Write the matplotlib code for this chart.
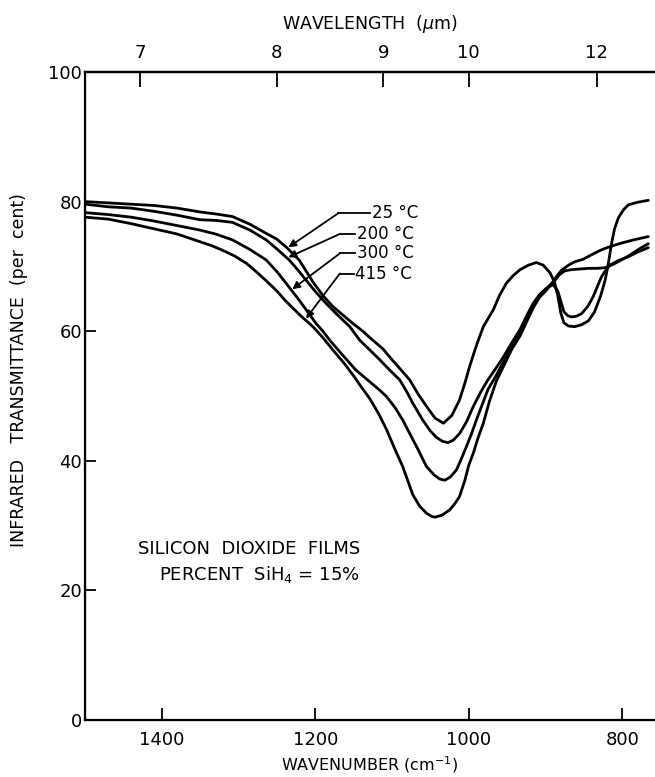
import numpy as np
import matplotlib
matplotlib.use('Agg')
import matplotlib.pyplot as plt

# Infrarot-Transmission von SiO2-Schichten
nu_25 = [1500, 1470, 1440, 1410, 1380, 1350, 1330, 1308, 1285, 1264, 1250, 1238, 1221, 1203,
         1190, 1177, 1165, 1151, 1138, 1125, 1112, 1100, 1088, 1077, 1066, 1055, 1044, 1033,
         1022, 1012, 1005, 999, 990, 981, 968, 960, 951, 942, 933, 922, 912, 903, 894, 888,
         884, 880, 876, 870, 862, 853, 844, 836, 828, 822, 818, 814, 810, 805, 798, 792, 780, 766]
t_25 = [80.0, 79.8, 79.6, 79.4, 79.0, 78.4, 78.1, 77.7, 76.5, 75.1, 74.2, 73.0, 71.0, 67.6,
        65.5, 63.8, 62.6, 61.2, 60.0, 58.6, 57.3, 55.6, 54.0, 52.5, 50.3, 48.4, 46.6, 45.8,
        47.0, 49.4, 52.0, 54.5, 57.8, 60.7, 63.3, 65.5, 67.4, 68.6, 69.5, 70.2, 70.6, 70.2, 69.0, 67.5,
        65.5, 62.8, 61.3, 60.8, 60.7, 61.0, 61.6, 63.0, 65.5, 68.0, 70.5, 73.5, 75.8, 77.5, 78.8, 79.5, 79.9, 80.2]

nu_200 = [1500, 1470, 1440, 1410, 1380, 1350, 1330, 1308, 1285, 1264, 1250, 1234, 1223, 1212,
          1199, 1186, 1170, 1155, 1142, 1128, 1116, 1103, 1090, 1080, 1073, 1060, 1050, 1042,
          1034, 1027, 1020, 1012, 1003, 994, 984, 975, 965, 955, 944, 933, 924, 916, 908, 899,
          890, 884, 880, 876, 871, 866, 860, 853, 845, 838, 832, 827, 821, 816, 805, 792, 780, 766]
t_200 = [79.6, 79.2, 79.0, 78.5, 77.9, 77.2, 77.1, 76.8, 75.6, 74.1, 72.7, 71.0, 69.5, 67.9,
         66.0, 64.3, 62.4, 60.7, 58.6, 57.0, 55.6, 54.0, 52.5, 50.5, 48.9, 46.3, 44.6, 43.6,
         43.0, 42.8, 43.2, 44.2, 46.0, 48.4, 50.7, 52.5, 54.2, 56.0, 58.2, 60.3, 62.5, 64.3, 65.6, 66.6,
         67.2, 66.2, 64.6, 63.0, 62.4, 62.2, 62.3, 62.7, 63.8, 65.3, 67.0, 68.4, 69.5, 70.2, 70.9, 71.5, 72.2, 72.9]

nu_300 = [1500, 1470, 1440, 1410, 1380, 1350, 1330, 1308, 1285, 1264, 1250, 1238, 1221, 1210,
          1199, 1190, 1181, 1165, 1147, 1130, 1116, 1107, 1096, 1086, 1076, 1068, 1060, 1055,
          1045, 1038, 1031, 1024, 1016, 1010, 1003, 996, 990, 982, 975, 965, 955, 944, 933, 924,
          916, 908, 899, 890, 882, 875, 866, 855, 844, 833, 822, 812, 801, 792, 783, 775, 766]
t_300 = [78.3, 78.0, 77.6, 77.0, 76.3, 75.6, 75.0, 74.1, 72.6, 71.0, 69.2, 67.4, 64.8, 63.0,
         61.2, 60.0, 58.6, 56.4, 54.0, 52.3, 50.9, 49.9, 48.2, 46.3, 44.0, 42.2, 40.3, 39.1,
         37.8, 37.2, 37.0, 37.5, 38.6, 40.2, 42.2, 44.3, 46.3, 48.8, 51.0, 53.0, 55.2, 57.5, 59.8, 62.0,
         64.0, 65.5, 66.6, 67.5, 68.7, 69.3, 69.5, 69.6, 69.7, 69.7, 69.8, 70.3, 71.0, 71.6, 72.3, 72.9, 73.5]

nu_415 = [1500, 1470, 1440, 1410, 1380, 1350, 1335, 1321, 1305, 1290, 1277, 1264, 1250, 1238,
          1220, 1203, 1190, 1177, 1162, 1150, 1140, 1129, 1118, 1107, 1097, 1086, 1079, 1073,
          1064, 1055, 1048, 1044, 1035, 1025, 1018, 1012, 1005, 1000, 994, 988, 981, 973, 964,
          955, 944, 933, 924, 916, 908, 899, 890, 884, 879, 870, 862, 851, 840, 830, 822, 812,
          801, 785, 766]
t_415 = [77.6, 77.3, 76.6, 75.8, 75.0, 73.8, 73.2, 72.5, 71.6, 70.5, 69.2, 67.8, 66.2, 64.6,
         62.5, 60.7, 59.0, 57.1, 55.0, 53.1, 51.4, 49.6, 47.4, 44.8, 42.0, 39.1, 36.8, 34.8,
         33.0, 31.9, 31.4, 31.3, 31.6, 32.4, 33.4, 34.5, 37.0, 39.3, 41.2, 43.5, 45.8, 49.2, 52.3,
         54.5, 57.2, 59.3, 61.6, 63.6, 65.2, 66.3, 67.7, 68.7, 69.4, 70.2, 70.7, 71.1, 71.8, 72.4, 72.8, 73.2,
         73.6, 74.1, 74.6]

labels = ['25 °C', '200 °C', '300 °C', '415 °C']
wavelengths = [7, 8, 9, 10, 12]
wavenumber_ticks = [1400, 1200, 1000, 800]
y_ticks = [0, 20, 40, 60, 80, 100]

curves = [(nu_25, t_25), (nu_200, t_200), (nu_300, t_300), (nu_415, t_415)]

plt.rcParams['font.family'] = 'DejaVu Sans'

fig = plt.figure(figsize=(6.55, 7.77), dpi=100)
ax = fig.add_axes([85 / 655, 57 / 777, 570 / 655, 648 / 777])

for nu, t in curves:
    ax.plot(nu, t, color='black', lw=2.0, solid_joinstyle='round', solid_capstyle='round')

ax.set_xlim(1500, 757.3)
ax.set_ylim(0, 100)
ax.set_xticks(wavenumber_ticks)
ax.set_yticks(y_ticks)
ax.tick_params(axis='x', direction='in', length=9, width=1.3, labelsize=13, pad=8)
ax.tick_params(axis='y', direction='in', length=8, width=1.3, labelsize=13, pad=2)
ax.spines['right'].set_visible(False)
for s in ['left', 'bottom', 'top']:
    ax.spines[s].set_linewidth(1.6)

ax.set_xlabel('WAVENUMBER (cm$^{-1}$)', fontsize=11.5, labelpad=4)
ax.set_ylabel('INFRARED   TRANSMITTANCE  (per  cent)', fontsize=12.5)
ax.yaxis.set_label_coords(-0.1, 0.54)

# obere Achse: Wellenlaenge
ax2 = ax.twiny()
ax2.set_xlim(ax.get_xlim())
ax2.set_xticks([1e4 / w for w in wavelengths])
ax2.set_xticklabels([str(w) for w in wavelengths])
ax2.tick_params(axis='x', direction='in', length=11, width=1.3, labelsize=13, pad=7)
ax2.spines['right'].set_visible(False)
ax2.spines['top'].set_linewidth(1.6)
ax2.set_xlabel('WAVELENGTH  ($\\mu$m)', fontsize=12.5, labelpad=11)

# Beschriftung der Kurven mit Pfeilen
text_x = [1126, 1146, 1146, 1148]
text_y = [78.2, 75.0, 72.0, 68.9]
corner_x = [1170, 1168, 1168, 1168]
tip_x = [1235, 1235, 1230, 1212]
for i, (nu, t) in enumerate(curves):
    tip_y = np.interp(tip_x[i], nu[::-1], t[::-1]) + 0.3
    ax.plot([corner_x[i], text_x[i] + 2], [text_y[i], text_y[i]], color='black', lw=1.3)
    ax.annotate('', xy=(tip_x[i], tip_y), xytext=(corner_x[i], text_y[i]),
                arrowprops=dict(arrowstyle='-|>', color='black', lw=1.3,
                                mutation_scale=11, shrinkA=0, shrinkB=0))
    ax.text(text_x[i], text_y[i], labels[i], ha='left', va='center', fontsize=12)

ax.text(1142, 24.3, 'SILICON  DIOXIDE  FILMS\nPERCENT  SiH$_4$ = 15%', ha='right', va='center',
        multialignment='right', fontsize=13, linespacing=1.4)

fig.savefig('out.png', dpi=100)
